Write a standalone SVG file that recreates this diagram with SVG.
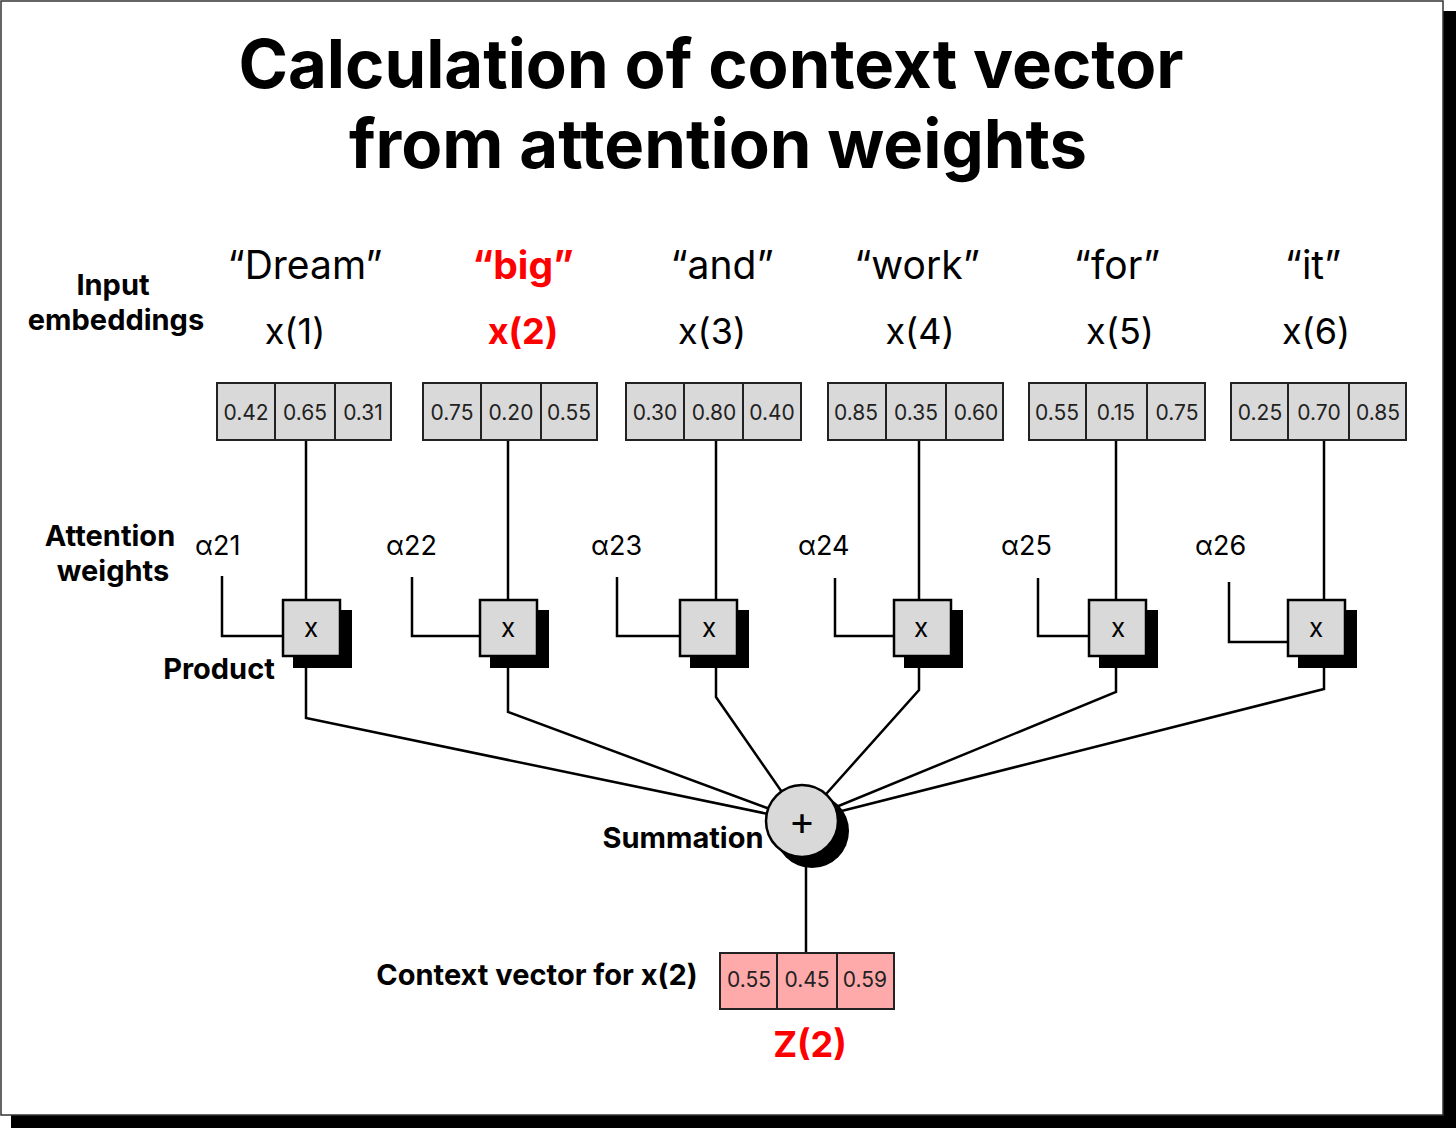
<svg xmlns="http://www.w3.org/2000/svg" width="1456" height="1128" viewBox="0 0 1456 1128">
<defs>
<style>
.t{font-family:Inter,"Liberation Sans",sans-serif;fill:#000}
.title{font-size:67px;font-weight:700;text-anchor:middle}
.lbl{font-size:29px;font-weight:700;text-anchor:middle}
.word{font-size:39px;text-anchor:middle}
.xi{font-size:36px;text-anchor:middle}
.red{fill:#ff0000;font-weight:700}
.al{font-size:27px}
.v{font-size:21px;text-anchor:middle;fill:#222}
.cell{fill:#d9d9d9;stroke:#222;stroke-width:2}
.pcell{fill:#ffaaaa;stroke:#222;stroke-width:2}
.ln{fill:none;stroke:#000;stroke-width:2.5}
.pb{fill:#d9d9d9;stroke:#000;stroke-width:2.5}
.sh{fill:#000}
.op{font-size:26px;text-anchor:middle}
</style>
</defs>
<rect x="11" y="11" width="1445" height="1117" fill="#000"/>
<rect x="1" y="1" width="1442" height="1114" fill="#fff" stroke="#333" stroke-width="1.5"/>

<g id="title">
<text class="t title" x="711" y="88">Calculation of context vector</text>
<text class="t title" x="718" y="168">from attention weights</text>
</g>

<g id="labels">
<text class="t lbl" x="113" y="295">Input</text>
<text class="t lbl" x="116" y="330">embeddings</text>
<text class="t lbl" x="110" y="546">Attention</text>
<text class="t lbl" x="113" y="581">weights</text>
<text class="t lbl" x="219" y="679">Product</text>
<text class="t lbl" x="683" y="848">Summation</text>
<text class="t lbl" x="537" y="985">Context vector for x(2)</text>
</g>

<g id="connectors">
<polyline class="ln" points="306,440 306,600"/>
<polyline class="ln" points="508,440 508,600"/>
<polyline class="ln" points="716,440 716,600"/>
<polyline class="ln" points="919,440 919,600"/>
<polyline class="ln" points="1116,440 1116,600"/>
<polyline class="ln" points="1324,440 1324,600"/>
<polyline class="ln" points="222,576 222,636 283,636"/>
<polyline class="ln" points="412,577 412,636 480,636"/>
<polyline class="ln" points="617,577 617,636 680,636"/>
<polyline class="ln" points="835,578 835,636 894,636"/>
<polyline class="ln" points="1038,578 1038,636 1089,636"/>
<polyline class="ln" points="1229,582 1229,642 1288,642"/>
<polyline class="ln" points="306,656 306,718 802,821"/>
<polyline class="ln" points="508,656 508,712 802,821"/>
<polyline class="ln" points="716,656 716,697 802,821"/>
<polyline class="ln" points="919,656 919,690 802,821"/>
<polyline class="ln" points="1116,656 1116,692 802,821"/>
<polyline class="ln" points="1324,656 1324,689 802,821"/>
<line class="ln" x1="806" y1="850" x2="806" y2="953"/>
</g>

<g id="x1">
<text class="t word" x="305" y="279">“Dream”</text>
<text class="t xi" x="295" y="344">x(1)</text>
<rect class="cell" x="217" y="383" width="58" height="57"/><rect class="cell" x="275" y="383" width="60" height="57"/><rect class="cell" x="335" y="383" width="56" height="57"/>
<text class="t v" x="246" y="420">0.42</text><text class="t v" x="305" y="420">0.65</text><text class="t v" x="363" y="420">0.31</text>
</g>
<g id="x2">
<text class="t word red" x="523" y="279">“big”</text>
<text class="t xi red" x="523" y="344">x(2)</text>
<rect class="cell" x="423" y="383" width="58" height="57"/><rect class="cell" x="481" y="383" width="60" height="57"/><rect class="cell" x="541" y="383" width="56" height="57"/>
<text class="t v" x="452" y="420">0.75</text><text class="t v" x="511" y="420">0.20</text><text class="t v" x="569" y="420">0.55</text>
</g>
<g id="x3">
<text class="t word" x="722" y="279">“and”</text>
<text class="t xi" x="712" y="344">x(3)</text>
<rect class="cell" x="626" y="383" width="58" height="57"/><rect class="cell" x="684" y="383" width="59" height="57"/><rect class="cell" x="743" y="383" width="58" height="57"/>
<text class="t v" x="655" y="420">0.30</text><text class="t v" x="714" y="420">0.80</text><text class="t v" x="772" y="420">0.40</text>
</g>
<g id="x4">
<text class="t word" x="917" y="279">“work”</text>
<text class="t xi" x="920" y="344">x(4)</text>
<rect class="cell" x="828" y="383" width="58" height="57"/><rect class="cell" x="886" y="383" width="60" height="57"/><rect class="cell" x="946" y="383" width="57" height="57"/>
<text class="t v" x="856" y="420">0.85</text><text class="t v" x="916" y="420">0.35</text><text class="t v" x="976" y="420">0.60</text>
</g>
<g id="x5">
<text class="t word" x="1117" y="279">“for”</text>
<text class="t xi" x="1120" y="344">x(5)</text>
<rect class="cell" x="1029" y="383" width="57" height="57"/><rect class="cell" x="1086" y="383" width="61" height="57"/><rect class="cell" x="1147" y="383" width="58" height="57"/>
<text class="t v" x="1057" y="420">0.55</text><text class="t v" x="1116" y="420">0.15</text><text class="t v" x="1177" y="420">0.75</text>
</g>
<g id="x6">
<text class="t word" x="1313" y="279">“it”</text>
<text class="t xi" x="1316" y="344">x(6)</text>
<rect class="cell" x="1231" y="383" width="57" height="57"/><rect class="cell" x="1288" y="383" width="61" height="57"/><rect class="cell" x="1349" y="383" width="57" height="57"/>
<text class="t v" x="1260" y="420">0.25</text><text class="t v" x="1319" y="420">0.70</text><text class="t v" x="1378" y="420">0.85</text>
</g>

<g id="alphas">
<text class="t al" x="195" y="555">α21</text>
<text class="t al" x="386" y="555">α22</text>
<text class="t al" x="591" y="555">α23</text>
<text class="t al" x="798" y="555">α24</text>
<text class="t al" x="1001" y="555">α25</text>
<text class="t al" x="1195" y="555">α26</text>
</g>

<g id="p1"><rect class="sh" x="293" y="610" width="59" height="58"/><rect class="pb" x="283" y="600" width="57" height="56"/><text class="t op" x="311" y="637">x</text></g>
<g id="p2"><rect class="sh" x="490" y="610" width="59" height="58"/><rect class="pb" x="480" y="600" width="57" height="56"/><text class="t op" x="508" y="637">x</text></g>
<g id="p3"><rect class="sh" x="690" y="610" width="59" height="58"/><rect class="pb" x="680" y="600" width="57" height="56"/><text class="t op" x="709" y="637">x</text></g>
<g id="p4"><rect class="sh" x="904" y="610" width="59" height="58"/><rect class="pb" x="894" y="600" width="57" height="56"/><text class="t op" x="921" y="637">x</text></g>
<g id="p5"><rect class="sh" x="1099" y="610" width="59" height="58"/><rect class="pb" x="1089" y="600" width="57" height="56"/><text class="t op" x="1118" y="637">x</text></g>
<g id="p6"><rect class="sh" x="1298" y="610" width="59" height="58"/><rect class="pb" x="1288" y="600" width="57" height="56"/><text class="t op" x="1316" y="637">x</text></g>

<g id="sum">
<circle class="sh" cx="812" cy="831" r="37"/>
<circle cx="802" cy="821" r="36" fill="#d9d9d9" stroke="#000" stroke-width="2.5"/>
<text class="t" x="802" y="835" font-size="40" text-anchor="middle">+</text>
</g>

<g id="z2">
<rect class="pcell" x="720" y="953" width="57" height="56"/><rect class="pcell" x="777" y="953" width="60" height="56"/><rect class="pcell" x="837" y="953" width="57" height="56"/>
<text class="t v" x="749" y="987">0.55</text><text class="t v" x="807" y="987">0.45</text><text class="t v" x="865" y="987">0.59</text>
<text class="t red" x="810" y="1057" font-size="36" text-anchor="middle">Z(2)</text>
</g>
</svg>
